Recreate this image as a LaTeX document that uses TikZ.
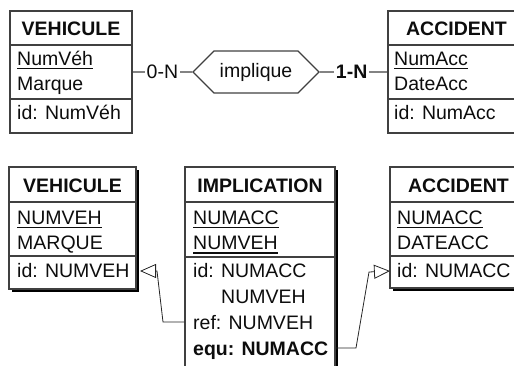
\documentclass[tikz,border=0pt]{standalone}
\usepackage{fontspec}
\setmainfont{Liberation Sans}
\usepackage{tikz}
\usetikzlibrary{shapes.symbols,shadows,arrows.meta}

% identifiant souligne
\newcommand{\cle}[1]{\setbox0\hbox{#1}\rlap{\rule[-3.5pt]{\wd0}{1.4pt}}\box0}

\begin{document}
\begin{tikzpicture}[x=1pt, y=-1pt,
        every node/.style={font=\fontsize{19.5}{23}\selectfont, text=black!95},
        entite/.style={draw=black!75, line width=1.2pt, fill=white, inner sep=0pt},
        ombre/.style={drop shadow={shadow xshift=3pt, shadow yshift=-3pt, fill=black, opacity=1}},
        titre/.style={anchor=base, inner sep=0pt, font=\fontsize{19.5}{23}\selectfont\bfseries},
        attr/.style={anchor=base west, inner sep=0pt},
        card/.style={fill=white, inner sep=1.5pt},
        lien/.style={draw=black!75, line width=1.2pt},
        refc/.style={draw=black!85, line width=0.8pt, -{Triangle[open, length=16pt, width=14pt]}}]
        \useasboundingbox (0,0) rectangle (514,366);
        % Schema conceptuel
        \node[entite, minimum width=122pt, minimum height=122pt] (veh1) at (71,72) {};
        \node[entite, minimum width=137pt, minimum height=122pt] (acc1) at (456.5,72) {};
        \node[lien, signal, signal to=west and east, minimum width=126pt, minimum height=42pt, inner sep=0pt] (implique) at (256,72) {implique};
        \draw[lien] (veh1.west |- 0,45) -- (veh1.east |- 0,45);
        \draw[lien] (veh1.west |- 0,99) -- (veh1.east |- 0,99);
        \draw[lien] (acc1.west |- 0,45) -- (acc1.east |- 0,45);
        \draw[lien] (acc1.west |- 0,99) -- (acc1.east |- 0,99);
        \node[titre] (veh1titre) at (veh1.north |- 0,36) {VEHICULE};
        \node[attr] (veh1num) at (17,65.5) {\cle{NumVéh}};
        \node[attr] (veh1marque) at (17,90.5) {Marque};
        \node[attr] (veh1id) at (17,120) {id: NumVéh};
        \node[titre] (acc1titre) at (acc1.north |- 0,36) {ACCIDENT};
        \node[attr] (acc1num) at (394,65.5) {\cle{NumAcc}};
        \node[attr] (acc1date) at (394,90.5) {DateAcc};
        \node[attr] (acc1id) at (394,120) {id: NumAcc};
        % Roles et cardinalites
        \draw[lien] (veh1) -- node[card] {0-N} (implique);
        \draw[lien] (implique) -- node[card, xshift=-2pt] {\bfseries 1-N} (acc1);
        % Schema relationnel
        \node[entite, ombre, minimum width=127pt, minimum height=122pt] (veh2) at (72.5,228) {};
        \node[entite, ombre, minimum width=150pt, minimum height=213pt] (impl) at (260,273.5) {};
        \node[entite, ombre, minimum width=137pt, minimum height=121pt] (acc2) at (458.5,227.5) {};
        \draw[lien] (veh2.west |- 0,202) -- (veh2.east |- 0,202);
        \draw[lien] (veh2.west |- 0,256) -- (veh2.east |- 0,256);
        \draw[lien] (impl.west |- 0,202) -- (impl.east |- 0,202);
        \draw[lien] (impl.west |- 0,257) -- (impl.east |- 0,257);
        \draw[lien] (acc2.west |- 0,202) -- (acc2.east |- 0,202);
        \draw[lien] (acc2.west |- 0,256) -- (acc2.east |- 0,256);
        \node[titre] (veh2titre) at (veh2.north |- 0,193) {VEHICULE};
        \node[attr] (veh2num) at (17,225) {\cle{NUMVEH}};
        \node[attr] (veh2marque) at (17,250) {MARQUE};
        \node[attr] (veh2id) at (17,277) {id: NUMVEH};
        \node[titre] (impltitre) at (impl.north |- 0,193) {IMPLICATION};
        \node[attr] (implacc) at (193,225) {\cle{NUMACC}};
        \node[attr] (implveh) at (193,250) {\cle{NUMVEH}};
        \node[attr] (implid) at (193,277) {id: NUMACC};
        \node[attr] (implidb) at (221,303) {NUMVEH};
        \node[attr] (implref) at (193,329) {ref: NUMVEH};
        \node[attr] (implequ) at (193,355) {\bfseries equ: NUMACC};
        \node[titre] (acc2titre) at (acc2.north |- 0,193) {ACCIDENT};
        \node[attr] (acc2num) at (397,225) {\cle{NUMACC}};
        \node[attr] (acc2date) at (397,250) {DATEACC};
        \node[attr] (acc2id) at (397,277) {id: NUMACC};
        % Cles etrangeres
        \coordinate (g1) at (163,322);
        \coordinate (g2) at (157,271);
        \coordinate (gbout) at (140,271);
        \coordinate (d1) at (356,348);
        \coordinate (d2) at (369,272);
        \coordinate (dbout) at (390,271);
        \draw[refc] (impl.west |- g1) -- (g1) -- (g2) -- (gbout);
        \draw[refc] (impl.east |- d1) -- (d1) -- (d2) -- (dbout);
    \end{tikzpicture}
\end{document}
